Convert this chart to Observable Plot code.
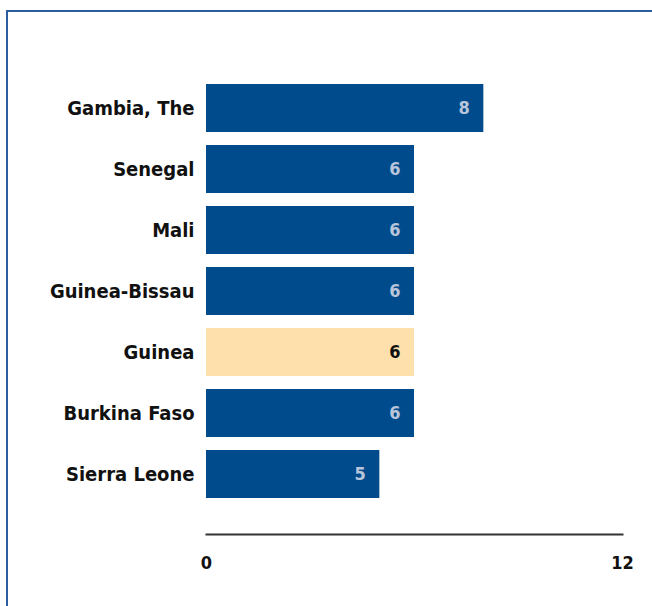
<!DOCTYPE html>
<html>
<head>
<meta charset="utf-8">
<script src="https://cdn.jsdelivr.net/npm/d3@7"></script>
<script src="https://cdn.jsdelivr.net/npm/@observablehq/plot@0.6"></script>
<style>
  html, body { margin: 0; padding: 0; background: #fff; }
  #wrap { position: relative; width: 652px; height: 606px; overflow: hidden; }
  #border { position: absolute; left: 6px; top: 10px; width: 800px; height: 800px;
            border-left: 2px solid #2a5c9e; border-top: 2px solid #2a5c9e; box-sizing: border-box; }
  #chart { position: absolute; left: 0; top: 0; }
</style>
</head>
<body>
<div id="wrap">
  <div id="border"></div>
  <div id="chart"></div>
</div>
<script>
const countries = ["Gambia, The", "Senegal", "Mali", "Guinea-Bissau", "Guinea", "Burkina Faso", "Sierra Leone"];
const values = [8, 6, 6, 6, 6, 6, 5];
const highlighted = "Guinea";
const xTicks = [0, 12];

const data = countries.map((c, i) => ({country: c, value: values[i]}));
const isHi = d => d.country === highlighted;
const notHi = d => d.country !== highlighted;

const chart = Plot.plot({
  width: 652,
  height: 606,
  marginLeft: 206,
  marginRight: 30,
  marginTop: 77,
  marginBottom: 72,
  style: {fontFamily: "'DejaVu Sans Condensed', 'DejaVu Sans', sans-serif", color: "#111", background: "transparent"},
  x: {domain: [0, 12]},
  y: {domain: countries, paddingInner: 0.218, paddingOuter: 0.109, insetBottom: 29},
  marks: [
    Plot.barX(data.filter(notHi), {x: "value", y: "country", fill: "#004b8c"}),
    Plot.barX(data.filter(isHi), {x: "value", y: "country", fill: "#fde0ab"}),
    Plot.text(data.filter(notHi), {x: "value", y: "country", text: d => String(d.value), textAnchor: "end", dx: -14, fill: "#b8c5da", fontSize: 18, fontWeight: "bold"}),
    Plot.text(data.filter(isHi), {x: "value", y: "country", text: d => String(d.value), textAnchor: "end", dx: -14, fill: "#111", fontSize: 18, fontWeight: "bold"}),
    Plot.frame({anchor: "bottom", stroke: "#333", strokeWidth: 2}),
    Plot.axisX({ticks: xTicks, tickSize: 0, tickPadding: 22, fontSize: 18, fontWeight: "bold", label: null}),
    Plot.axisY({tickSize: 0, tickPadding: 12, fontSize: 20, fontWeight: "bold", label: null})
  ]
});
document.getElementById("chart").appendChild(chart);
</script>
</body>
</html>
